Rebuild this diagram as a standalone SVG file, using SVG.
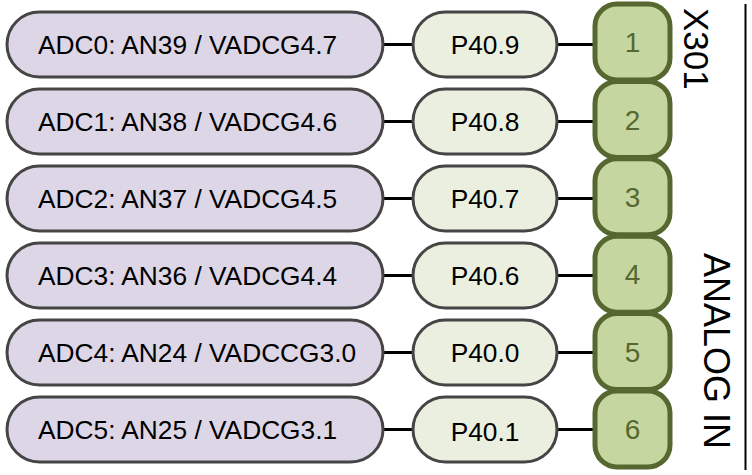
<svg xmlns="http://www.w3.org/2000/svg" width="752" height="475" viewBox="0 0 752 475">
<style>
.adc{fill:#ddd6e6;stroke:#454545;stroke-width:3}
.pin{fill:#ebefdf;stroke:#454545;stroke-width:3}
.box{fill:#c5d6a0;stroke:#56682f;stroke-width:5}
.t{font-family:"Liberation Sans",Arial,sans-serif;font-size:26.3px;fill:#000}
.n{font-family:"Liberation Sans",Arial,sans-serif;font-size:28px;fill:#56682f;text-anchor:middle}
.c{stroke:#000;stroke-width:3;fill:none}
.lbl{font-family:"Liberation Sans",Arial,sans-serif;font-size:35px;fill:#000}
</style>
<g id="connectors">
<line class="c" x1="383" y1="44.5" x2="413" y2="44.5"/><line class="c" x1="557" y1="44.5" x2="595" y2="44.5"/>
<line class="c" x1="383" y1="121.5" x2="413" y2="121.5"/><line class="c" x1="557" y1="121.5" x2="595" y2="121.5"/>
<line class="c" x1="383" y1="198.5" x2="413" y2="198.5"/><line class="c" x1="557" y1="198.5" x2="595" y2="198.5"/>
<line class="c" x1="383" y1="275.5" x2="413" y2="275.5"/><line class="c" x1="557" y1="275.5" x2="595" y2="275.5"/>
<line class="c" x1="383" y1="352.5" x2="413" y2="352.5"/><line class="c" x1="557" y1="352.5" x2="595" y2="352.5"/>
<line class="c" x1="383" y1="429.5" x2="413" y2="429.5"/><line class="c" x1="557" y1="429.5" x2="595" y2="429.5"/>
</g>
<g id="adc0"><rect class="adc" x="7" y="12" width="376" height="65" rx="32.5"/><text class="t" x="38" y="54">ADC0: AN39 / VADCG4.7</text></g>
<g id="adc1"><rect class="adc" x="7" y="89" width="376" height="65" rx="32.5"/><text class="t" x="38" y="131">ADC1: AN38 / VADCG4.6</text></g>
<g id="adc2"><rect class="adc" x="7" y="166" width="376" height="65" rx="32.5"/><text class="t" x="38" y="208">ADC2: AN37 / VADCG4.5</text></g>
<g id="adc3"><rect class="adc" x="7" y="243" width="376" height="65" rx="32.5"/><text class="t" x="38" y="285">ADC3: AN36 / VADCG4.4</text></g>
<g id="adc4"><rect class="adc" x="7" y="320" width="376" height="65" rx="32.5"/><text class="t" x="38" y="362">ADC4: AN24 / VADCCG3.0</text></g>
<g id="adc5"><rect class="adc" x="7" y="397" width="376" height="65" rx="32.5"/><text class="t" x="38" y="439">ADC5: AN25 / VADCG3.1</text></g>
<g id="p409"><rect class="pin" x="413" y="12" width="144" height="65" rx="32.5"/><text class="t" x="485" y="54" text-anchor="middle">P40.9</text></g>
<g id="p408"><rect class="pin" x="413" y="89" width="144" height="65" rx="32.5"/><text class="t" x="485" y="131" text-anchor="middle">P40.8</text></g>
<g id="p407"><rect class="pin" x="413" y="166" width="144" height="65" rx="32.5"/><text class="t" x="485" y="208" text-anchor="middle">P40.7</text></g>
<g id="p406"><rect class="pin" x="413" y="243" width="144" height="65" rx="32.5"/><text class="t" x="485" y="285" text-anchor="middle">P40.6</text></g>
<g id="p400"><rect class="pin" x="413" y="320" width="144" height="65" rx="32.5"/><text class="t" x="485" y="362" text-anchor="middle">P40.0</text></g>
<g id="p401"><rect class="pin" x="413" y="397" width="144" height="65" rx="32.5"/><text class="t" x="485" y="441" text-anchor="middle">P40.1</text></g>
<g id="pin1"><rect class="box" x="595" y="4" width="75" height="76" rx="22"/><text class="n" x="632.5" y="52">1</text></g>
<g id="pin2"><rect class="box" x="595" y="81.4" width="75" height="76" rx="22"/><text class="n" x="632.5" y="129.5">2</text></g>
<g id="pin3"><rect class="box" x="595" y="158.8" width="75" height="76" rx="22"/><text class="n" x="632.5" y="207">3</text></g>
<g id="pin4"><rect class="box" x="595" y="236.2" width="75" height="76" rx="22"/><text class="n" x="632.5" y="284">4</text></g>
<g id="pin5"><rect class="box" x="595" y="313.6" width="75" height="76" rx="22"/><text class="n" x="632.5" y="362">5</text></g>
<g id="pin6"><rect class="box" x="595" y="391" width="75" height="76" rx="22"/><text class="n" x="632.5" y="439">6</text></g>
<g id="label">
<text class="lbl" transform="translate(684,8) rotate(90)">X301</text>
<text class="lbl" transform="translate(704,253) rotate(90)" style="font-size:36px">ANALOG IN</text>
<line x1="745.5" y1="4" x2="745.5" y2="470" stroke="#000" stroke-width="2"/>
</g>
</svg>
